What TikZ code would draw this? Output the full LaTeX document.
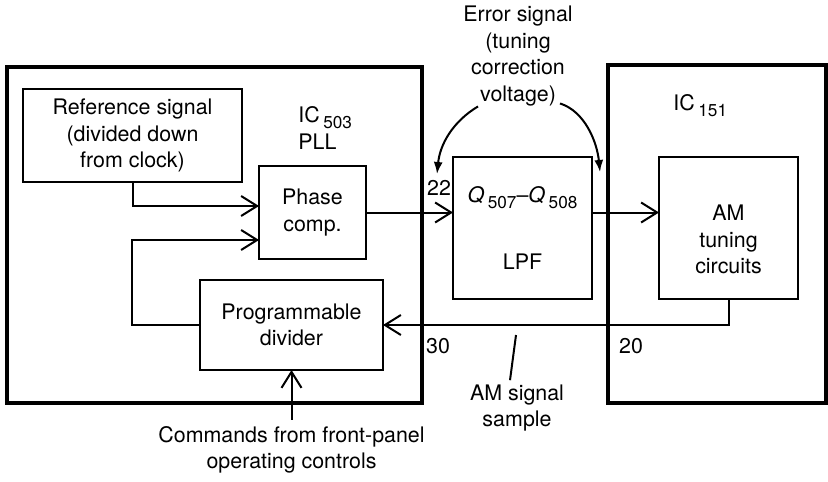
\documentclass[tikz,border=0pt]{standalone}
\usepackage{fontspec}
\setmainfont{TeX Gyre Heros}
\usepackage{tikz}
\usetikzlibrary{arrows.meta,calc}
\newcommand{\lowidx}[1]{\,\raisebox{-0.55ex}{\fontsize{8.6}{10}\selectfont #1}}

\begin{document}
\begin{tikzpicture}[x=0.5pt, y=-0.5pt,
    every node/.style={font=\fontsize{10.7}{13.3}\selectfont, inner sep=0pt},
    pllblock/.style={rectangle, draw, line width=1pt, align=center, outer sep=0pt},
    chipbox/.style={rectangle, draw, line width=2.3pt, outer sep=0pt},
    arr/.style={-{Straight Barb[length=8pt,width=10pt,line width=1pt]}, line width=1pt},
    curvearr/.style={-{Latex[length=6pt,width=4.5pt]}, line width=1pt},
    pinlbl/.style={font=\fontsize{10.7}{13.3}\selectfont}
]
    \useasboundingbox (0,0) rectangle (828,481);

    % chips
    \node[chipbox, minimum width=207.5pt, minimum height=168pt] (ic503) at (214.5,235) {};
    \node[chipbox, minimum width=109pt, minimum height=169pt] (ic151) at (717,234) {};
    \node[anchor=west, align=left] (ic503lbl) at (298,128) {IC\lowidx{503}\\PLL};
    \node[anchor=west] (ic151lbl) at (673,106) {IC\lowidx{151}};

    % blocks
    \node[pllblock, minimum width=109.5pt, minimum height=46.5pt] (ref) at (132.5,135.5)
        {Reference signal\\(divided down\\from clock)};
    \node[pllblock, minimum width=53.5pt, minimum height=46.5pt] (phase) at (312.5,212.5)
        {Phase\\comp.};
    \node[pllblock, minimum width=91.5pt, minimum height=45pt] (div) at (291.5,325)
        {Programmable\\divider};
    \node[pllblock, minimum width=69.5pt, minimum height=71pt] (lpf) at (522.5,228)
        {\textit{Q}\lowidx{507}--\textit{Q}\lowidx{508}\\[20pt]LPF};
    \node[pllblock, minimum width=69.5pt, minimum height=71pt] (am) at (728.5,228)
        {\rule{0pt}{19.5pt}AM\\tuning\\circuits};

    % pin numbers
    \node[pinlbl] (p22) at (439,188) {22};
    \node[pinlbl] (p30) at (438,346) {30};
    \node[pinlbl] (p20) at (631,346) {20};

    % annotations
    \node[align=center] (err) at (518,56) {Error signal\\(tuning\\correction\\voltage)};
    \node[align=center] (cmd) at (291.5,450) {Commands from front-panel\\operating controls};
    \node[align=center] (amss) at (517,408) {AM signal\\sample};
    \coordinate (tap) at (516,335);

    % signal paths
    \draw[arr] (ref.south) |- ($(phase.west)+(0,-6.5)$);
    \draw[arr] (div.west) -- ++(-68,0) |- ($(phase.west)+(0,27.5)$);
    \draw[arr] (phase.east) -- (phase.east -| lpf.west);
    \draw[arr] (lpf.east |- phase.east) -- (am.west |- phase.east);
    \draw[arr] (am.south) |- (div.east);
    \draw[arr, shorten <=3pt] (cmd.north) -- (div.south);

    \draw[line width=1pt] (tap) -- ($(amss.north)+(-7,-4)$);
    \draw[curvearr] ($(err.south)+(-40,0)$) .. controls +(-25,15) and +(3,-30) .. ($(p22.north)+(-2,-6)$);
    \draw[curvearr] ($(err.south)+(42,-3)$) .. controls +(25,8) and +(-3,-30) .. ($(lpf.north east)+(8,15)$);
\end{tikzpicture}
\end{document}
